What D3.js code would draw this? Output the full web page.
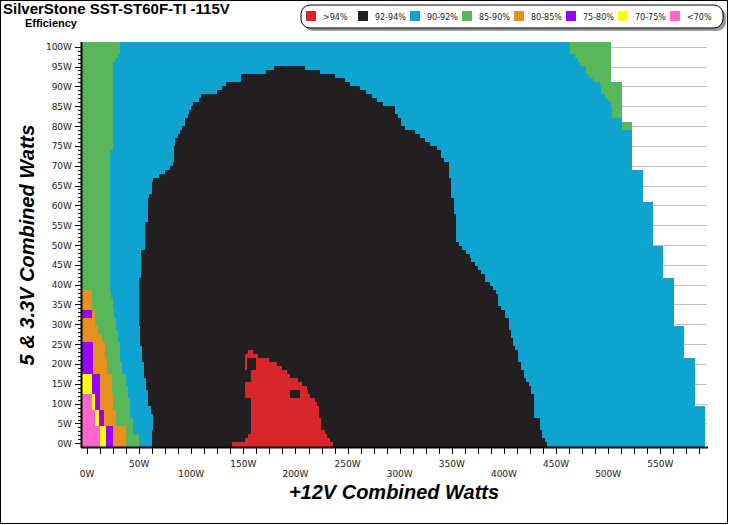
<!DOCTYPE html>
<html>
<head>
<meta charset="utf-8" />
<script src="https://d3js.org/d3.v7.min.js"></script>
<style>
  body { margin: 0; background: #fff; }
  svg { display: block; }
</style>
</head>
<body>
<svg id="chart" width="729" height="525"></svg>
<script>
// efficiency bands and their colours
var bands = [">94%", "92-94%", "90-92%", "85-90%", "80-85%", "75-80%", "70-75%", "<70%"];
var bandColors = ["#d9262b", "#231f20", "#0fa3d0", "#58b65b", "#e8901f", "#9900ff", "#ffff00", "#ff66cc"];

var xLabels = [0, 50, 100, 150, 200, 250, 300, 350, 400, 450, 500, 550];
var yLabels = [0, 5, 10, 15, 20, 25, 30, 35, 40, 45, 50, 55, 60, 65, 70, 75, 80, 85, 90, 95, 100];

// 5V & 3.3V load rows (W), one row per watt
var rows = d3.range(0, 101);
var leftEdge = -5.1;

// band edges along the +12V axis (W), as runs [firstRow, lastRow, watts]
var pinkEnd = [[0, 4, 12.4], [5, 8, 7.6], [9, 12, 4.5]];
var yellowEnd = [[0, 4, 18.2], [5, 8, 11.5], [9, 12, 7.6], [13, 17, 4.5]];
var purpleEnd = [[0, 4, 25.2], [5, 8, 16.3], [9, 12, 12.4], [13, 17, 12.4], [18, 25, 6.0], [32, 33, 4.5]];
var orangeEnd = [[0, 4, 37.4], [5, 8, 27.8], [9, 12, 25], [13, 17, 23.7], [18, 21, 18.9], [22, 25, 17.2],
  [26, 27, 14.1], [28, 29, 10.8], [30, 33, 7.6], [34, 38, 5.2]];
var greenEnd = [[0, 2, 50.1], [3, 6, 44.4], [7, 11, 41.2], [12, 14, 39.6], [15, 17, 37.4], [18, 20, 33.2],
  [21, 25, 31.6], [26, 28, 30], [29, 31, 27.8], [32, 33, 25.9], [34, 36, 24.6], [37, 38, 23],
  [39, 73, 22], [74, 95, 25.2], [96, 96, 26.8], [97, 97, 30], [98, 100, 31.6]];
var blueEnd = [[0, 3, 62.6], [4, 7, 63.5], [8, 9, 61], [10, 13, 58.7], [14, 16, 56.5], [17, 20, 54.6],
  [21, 24, 52.4], [25, 29, 50.8], [30, 41, 49.8], [42, 48, 51.7], [49, 55, 55.6], [56, 61, 58.4],
  [62, 62, 59.7], [63, 65, 62], [66, 66, 63.5], [67, 67, 69.3], [68, 68, 74.7], [69, 69, 79.5],
  [70, 70, 82.7], [71, 74, 83.4], [75, 76, 84.3], [77, 77, 87.5], [78, 78, 89.1], [79, 79, 90.7],
  [80, 81, 93.9], [82, 82, 97.1], [83, 83, 97.7], [84, 84, 99.4], [85, 85, 101.9], [86, 86, 107.6],
  [87, 87, 109.2], [88, 88, 124.3], [89, 89, 129.4], [90, 90, 133.2], [91, 92, 148.2], [93, 93, 172.2],
  [94, 94, 179.2]];
var redStart = [[0, 0, 138.7], [1, 1, 151.4], [2, 2, 154.6], [3, 11, 157.8], [12, 15, 151.4],
  [16, 18, 157.2], [19, 22, 151.4], [23, 23, 154.6]];
var redEnd = [[0, 0, 236.1], [1, 1, 232.9], [2, 2, 230.3], [3, 3, 228.1], [4, 6, 224.9], [7, 9, 222.6],
  [10, 10, 220.2], [11, 11, 218.5], [12, 12, 214.4], [13, 13, 211.8], [14, 14, 210.6], [15, 15, 205.8],
  [16, 16, 202.5], [17, 17, 194.6], [18, 18, 191.4], [19, 19, 186.6], [20, 20, 182.4], [21, 21, 174.7],
  [22, 22, 164.2], [23, 23, 159.4]];
var blackEnd = [[0, 0, 441.2], [1, 1, 439], [2, 3, 436.4], [4, 6, 434.2], [7, 12, 428.7], [13, 14, 426.2],
  [15, 15, 423.6], [16, 16, 421.4], [17, 18, 418.8], [19, 20, 416.6], [21, 23, 413.4], [24, 24, 410.2],
  [25, 26, 408.6], [27, 28, 406.4], [29, 31, 404.5], [32, 33, 400.6], [34, 34, 397.5], [35, 37, 394.2],
  [38, 38, 392.7], [39, 39, 389.4], [40, 40, 386.2], [41, 42, 381.5], [43, 43, 378.3], [44, 44, 375],
  [45, 45, 371.9], [46, 46, 368.7], [47, 47, 367.1], [48, 48, 363.9], [49, 49, 359.7], [50, 50, 356.5],
  [51, 57, 354.3], [58, 61, 351.7], [62, 66, 348.9], [67, 70, 347], [71, 71, 342.4], [72, 73, 340],
  [74, 74, 336.1], [75, 75, 328.7], [76, 76, 323.9], [77, 77, 319.2], [78, 78, 314.4], [79, 79, 304.8],
  [80, 81, 301.6], [82, 82, 298.4], [83, 84, 295.2], [85, 85, 284], [86, 86, 277.9], [87, 87, 273.2],
  [88, 88, 267.4], [89, 89, 261.6], [90, 90, 252.1], [91, 91, 247.3], [92, 92, 237.7], [93, 93, 223.3],
  [94, 94, 208.9]];
var blue2End = [[79, 80, 513.4], [81, 81, 513.4], [82, 84, 503.9], [85, 85, 502.9], [86, 86, 499.7],
  [87, 87, 496.5], [88, 89, 493.3], [90, 90, 491.7], [91, 91, 485.3], [92, 92, 481.4], [93, 94, 478.9],
  [95, 95, 473.2], [96, 96, 470.9], [97, 97, 467.7], [98, 100, 463.6]];
var dataEnd = [[0, 9, 593.3], [10, 21, 583.7], [22, 29, 573.2], [30, 41, 563.6], [42, 49, 552.3],
  [50, 60, 543.1], [61, 68, 533.6], [69, 80, 523], [81, 90, 513.4], [91, 100, 502.9]];
// 92-94% spots inside the >94% area [firstRow, lastRow, fromW, toW]
var holes = [[19, 21, 153.1, 162.6], [12, 13, 194.6, 204.2]];

function expand(runs) {
  var out = rows.map(function () { return null; });
  runs.forEach(function (r) {
    for (var i = r[0]; i <= r[1]; i++) out[i] = r[2];
  });
  return out;
}

var edges = [
  [expand(pinkEnd), "<70%"],
  [expand(yellowEnd), "70-75%"],
  [expand(purpleEnd), "75-80%"],
  [expand(orangeEnd), "80-85%"],
  [expand(greenEnd), "85-90%"],
  [expand(blueEnd), "90-92%"],
  [expand(redStart), "92-94%"],
  [expand(redEnd), ">94%"],
  [expand(blackEnd), "92-94%"],
  [expand(blue2End), "90-92%"],
  [expand(dataEnd), "85-90%"]
];
var ends = expand(dataEnd);

var cells = [];
rows.forEach(function (r) {
  var cursor = leftEdge;
  edges.forEach(function (e, j) {
    var v = e[0][r];
    if (j == 9 && v == null) v = ends[r];
    if (v == null) return;
    if (v > cursor) cells.push({ row: r, x0: cursor, x1: v, band: e[1] });
    cursor = Math.max(cursor, v);
  });
});
holes.forEach(function (h) {
  for (var r = h[0]; r <= h[1]; r++) cells.push({ row: r, x0: h[2], x1: h[3], band: "92-94%" });
});

var svg = d3.select("#chart");
var color = d3.scaleOrdinal().domain(bands).range(bandColors);

var x = d3.scaleLinear().domain([0, 550]).range([87, 660.3]);
var y = d3.scaleLinear().domain([0, 100]).range([443.3, 46.7]);
var yRow = d3.scaleBand().domain(rows).range([446.5, 41.5]);

svg.append("rect").attr("x", 0.5).attr("y", 0.5).attr("width", 727).attr("height", 523)
  .attr("fill", "#fff").attr("stroke", "#000");

// grid lines
svg.append("g").selectAll("line").data(yLabels).enter().append("line")
  .attr("x1", 82).attr("x2", 707)
  .attr("y1", function (d) { return Math.round(y(d)) + 0.5; })
  .attr("y2", function (d) { return Math.round(y(d)) + 0.5; })
  .attr("stroke", "#c0c0c0");

svg.append("g").selectAll("rect").data(cells).enter().append("rect")
  .attr("x", function (d) { return x(d.x0); })
  .attr("width", function (d) { return x(d.x1) - x(d.x0); })
  .attr("y", function (d) { return yRow(d.row); })
  .attr("height", yRow.bandwidth())
  .attr("fill", function (d) { return color(d.band); })
  .attr("shape-rendering", "crispEdges");

// y axis
var yAxis = svg.append("g");
yAxis.append("line").attr("x1", 81.5).attr("x2", 81.5).attr("y1", 42).attr("y2", 448)
  .attr("stroke", "#000").attr("stroke-width", 2);
yAxis.selectAll("line.minor").data(d3.range(0, 101)).enter().append("line")
  .attr("x1", 78).attr("x2", 81)
  .attr("y1", function (d) { return Math.round(y(d)) + 0.5; })
  .attr("y2", function (d) { return Math.round(y(d)) + 0.5; })
  .attr("stroke", "#000");
yAxis.selectAll("line.major").data(yLabels).enter().append("line")
  .attr("x1", 75).attr("x2", 81)
  .attr("y1", function (d) { return Math.round(y(d)) + 0.5; })
  .attr("y2", function (d) { return Math.round(y(d)) + 0.5; })
  .attr("stroke", "#000");
yAxis.selectAll("text").data(yLabels).enter().append("text")
  .attr("x", 72).attr("y", function (d) { return y(d) + 3.5; })
  .attr("text-anchor", "end")
  .style("font", "9px 'DejaVu Sans'").attr("fill", "#222")
  .text(function (d) { return d + "W"; });

// x axis
var xAxis = svg.append("g");
xAxis.append("line").attr("x1", 81).attr("x2", 708).attr("y1", 447.5).attr("y2", 447.5)
  .attr("stroke", "#000").attr("stroke-width", 2);
xAxis.selectAll("line.tick").data(d3.range(0, 600, 12.5)).enter().append("line")
  .attr("x1", function (d) { return Math.round(x(d)) + 0.5; })
  .attr("x2", function (d) { return Math.round(x(d)) + 0.5; })
  .attr("y1", 448).attr("y2", 454)
  .attr("stroke", "#000");
xAxis.selectAll("text").data(xLabels).enter().append("text")
  .attr("x", function (d) { return x(d); })
  .attr("y", function (d) { return d % 100 == 0 ? 477 : 466.5; })
  .attr("text-anchor", "middle")
  .style("font", "9px 'DejaVu Sans'").attr("fill", "#222")
  .text(function (d) { return d + "W"; });

// titles
svg.append("text").attr("x", 3).attr("y", 14)
  .style("font", "bold 15px 'Liberation Sans'").text("SilverStone SST-ST60F-TI -115V");
svg.append("text").attr("x", 25).attr("y", 27)
  .style("font", "bold 11px 'Liberation Sans'").text("Efficiency");
svg.append("text").attr("x", 394).attr("y", 499).attr("text-anchor", "middle")
  .style("font", "italic bold 20px 'Liberation Sans'").text("+12V Combined Watts");
svg.append("text").attr("transform", "translate(34,245) rotate(-90)").attr("text-anchor", "middle")
  .style("font", "italic bold 20px 'Liberation Sans'").text("5 & 3.3V Combined Watts");

// legend
var legend = svg.append("g");
legend.append("rect").attr("x", 304).attr("y", 8).attr("width", 422).attr("height", 23).attr("rx", 9)
  .attr("fill", "#999");
legend.append("rect").attr("x", 301).attr("y", 5).attr("width", 422).attr("height", 23).attr("rx", 9)
  .attr("fill", "#fff").attr("stroke", "#000");
var item = legend.selectAll("g.item").data(bands).enter().append("g")
  .attr("transform", function (d, i) { return "translate(" + (306 + i * 52) + ",11)"; });
item.append("rect").attr("width", 10).attr("height", 10)
  .attr("fill", function (d) { return color(d); });
item.append("text").attr("x", 17).attr("y", 8.5)
  .style("font", "8px 'DejaVu Sans'").attr("fill", "#222")
  .text(function (d) { return d; });
</script>
</body>
</html>
